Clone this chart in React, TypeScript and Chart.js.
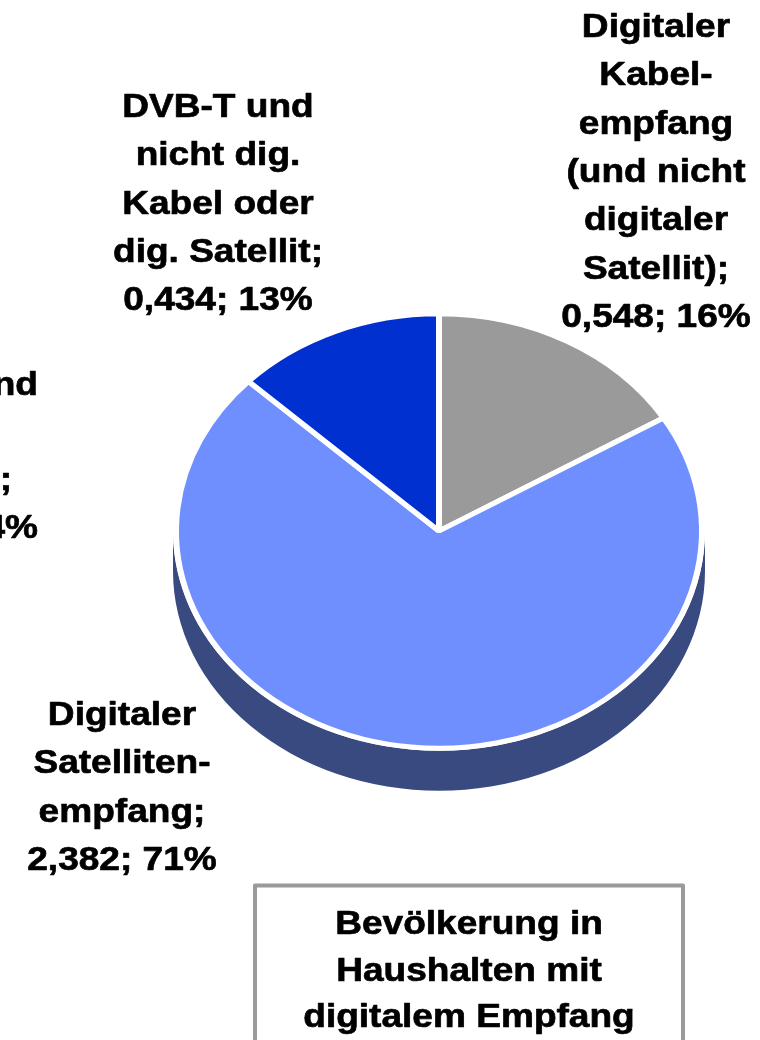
import React, { useEffect, useRef } from "react";
import { Chart, registerables } from "chart.js";

Chart.register(...registerables);

// ---- data ----
const categories: string[][] = [
  ["Digitaler", "Kabel-", "empfang", "(und nicht", "digitaler", "Satellit)"],
  ["Digitaler", "Satelliten-", "empfang"],
  ["DVB-T und", "nicht dig.", "Kabel oder", "dig. Satellit"],
];
const values: number[] = [0.548, 2.382, 0.434];
const titleLines: string[] = ["Bevölkerung in", "Haushalten mit", "digitalem Empfang"];
// fragment of a neighbouring label cut by the left edge of the picture
const fragmentLines: string[] = ["und", "", ";", "4%"];

// ---- styles / layout ----
const sliceColors = ["#9A9A9A", "#6F8FFF", "#0030D0"];
const sideColors = ["#5E5E5E", "#394A80", "#001C7A"];
const labelAnchors = [
  { x: 656, y: 37 },
  { x: 122, y: 725 },
  { x: 218, y: 117 },
];
const fragmentRight = [38, 38, 12, 38];
const FONT = 'bold 34px "Liberation Sans", Arial, Helvetica, sans-serif';
const STRETCH = 1.09;
const LINE_H = 48.3;
const Y_RATIO = 0.826;
const DEPTH = 40;
const CX = 439;
const CY = 531;
const RADIUS = 263;
const BORDER = 6;

function fmt(v: number) {
  return v.toFixed(3).replace(".", ",");
}

function drawLine(ctx: CanvasRenderingContext2D, text: string, x: number, y: number, align: CanvasTextAlign = "center") {
  ctx.save();
  ctx.translate(x, y);
  ctx.scale(STRETCH, 1);
  ctx.textAlign = align;
  ctx.fillText(text, 0, 0);
  ctx.strokeText(text, 0, 0);
  ctx.restore();
}

const pie3d = {
  id: "pie3d",
  beforeDatasetsDraw(chart: any) {
    const ctx: CanvasRenderingContext2D = chart.ctx;
    const meta = chart.getDatasetMeta(0);
    const first = meta.data[0];
    if (!first) return;
    const cx = first.x;
    const cy = first.y;
    ctx.save();
    ctx.translate(cx, cy);
    ctx.scale(1, Y_RATIO);
    ctx.translate(-cx, -cy);
    const d = DEPTH / Y_RATIO;
    meta.data.forEach((arc: any, i: number) => {
      const R = arc.outerRadius + BORDER / 2;
      const s = arc.startAngle;
      const e = arc.endAngle;
      const ranges = [
        [0, Math.PI],
        [2 * Math.PI, 3 * Math.PI],
        [-2 * Math.PI, -Math.PI],
      ];
      ranges.forEach(([lo, hi]) => {
        const a = Math.max(s, lo);
        const b = Math.min(e, hi);
        if (b <= a) return;
        ctx.beginPath();
        ctx.arc(cx, cy, R, a, b, false);
        ctx.arc(cx, cy + d, R, b, a, true);
        ctx.closePath();
        ctx.fillStyle = sideColors[i];
        ctx.fill();
      });
    });
  },
  afterDatasetsDraw(chart: any) {
    chart.ctx.restore();
  },
  afterDraw(chart: any) {
    const ctx: CanvasRenderingContext2D = chart.ctx;
    const total = values.reduce((a, b) => a + b, 0);
    ctx.save();
    ctx.font = FONT;
    ctx.fillStyle = "#000000";
    ctx.strokeStyle = "#000000";
    ctx.lineWidth = 0.7;
    ctx.lineJoin = "round";
    ctx.textBaseline = "alphabetic";
    categories.forEach((cat, i) => {
      const lines = cat.slice();
      lines[lines.length - 1] = lines[lines.length - 1] + ";";
      lines.push(fmt(values[i]) + "; " + Math.round((values[i] / total) * 100) + "%");
      const a = labelAnchors[i];
      lines.forEach((ln, k) => drawLine(ctx, ln, a.x, a.y + k * LINE_H));
    });
    fragmentLines.forEach((ln, k) => {
      if (ln) drawLine(ctx, ln, fragmentRight[k], 395 + k * 47.5, "right");
    });
    // title box
    titleLines.forEach((ln, k) => drawLine(ctx, ln, 469, 934 + k * 46.5));
    ctx.strokeStyle = "#9A9A9A";
    ctx.lineWidth = 4;
    ctx.strokeRect(255, 885.5, 428, 220);
    ctx.restore();
  },
};

export default function App() {
  const ref = useRef<HTMLCanvasElement | null>(null);
  useEffect(() => {
    if (!ref.current) return;
    const chart = new Chart(ref.current, {
      type: "pie",
      data: {
        labels: categories.map((c) => c.join(" ")),
        datasets: [
          {
            data: values,
            backgroundColor: sliceColors,
            borderColor: "#FFFFFF",
            borderWidth: BORDER,
            hoverOffset: 0,
            clip: false,
          } as any,
        ],
      },
      options: {
        responsive: false,
        animation: false,
        radius: RADIUS,
        layout: {
          padding: { left: CX - 300, right: 760 - (CX + 300), top: CY - 300, bottom: 1040 - (CY + 300) },
        },
        plugins: {
          legend: { display: false },
          title: { display: false },
          tooltip: { enabled: false },
        },
        events: [],
      } as any,
      plugins: [pie3d],
    });
    return () => chart.destroy();
  }, []);
  return (
    <div style={{ position: "absolute", left: 0, top: 0, width: 760, height: 1040, background: "#fff" }}>
      <canvas ref={ref} width={760} height={1040} style={{ display: "block" }} />
    </div>
  );
}
